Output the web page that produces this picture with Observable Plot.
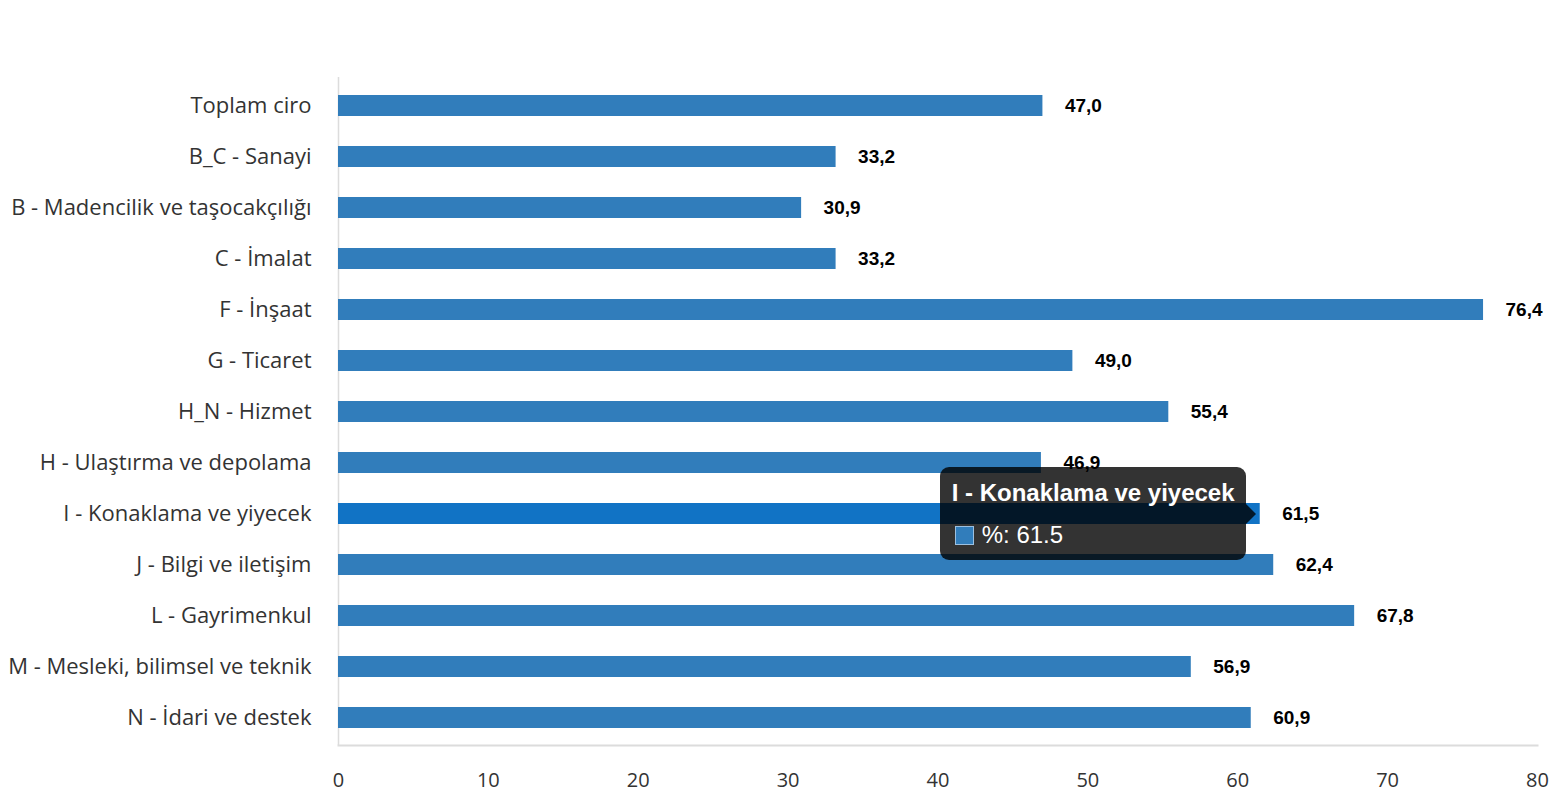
<!DOCTYPE html>
<html><head><meta charset="utf-8">
<script src="https://cdn.jsdelivr.net/npm/d3@7"></script>
<script src="https://cdn.jsdelivr.net/npm/@observablehq/plot@0.6"></script>
<style>
body{margin:0;background:#fff;}
#wrap{position:relative;width:1556px;height:800px;overflow:hidden;}
#tip{position:absolute;background:rgba(0,0,0,0.8);border-radius:9px;color:#fff;font-family:"Liberation Sans",Arial,sans-serif;box-sizing:border-box;}
#tip .arrow{position:absolute;width:0;height:0;border-top:10px solid transparent;border-bottom:10px solid transparent;border-left:10px solid rgba(0,0,0,0.8);}
#tip .title{position:absolute;left:12px;top:13px;font-weight:bold;font-size:24px;line-height:26px;white-space:nowrap;}
#tip .row{position:absolute;left:15px;top:55px;font-size:24px;line-height:26px;white-space:nowrap;display:flex;align-items:center;}
#tip .sw{display:inline-block;width:17px;height:17px;border:1px solid #9cc0e0;margin-right:8px;}
</style></head><body><div id="wrap"></div>
<script>
const categories = [
  "Toplam ciro",
  "B_C - Sanayi",
  "B - Madencilik ve taşocakçılığı",
  "C - İmalat",
  "F - İnşaat",
  "G - Ticaret",
  "H_N - Hizmet",
  "H - Ulaştırma ve depolama",
  "I - Konaklama ve yiyecek",
  "J - Bilgi ve iletişim",
  "L - Gayrimenkul",
  "M - Mesleki, bilimsel ve teknik",
  "N - İdari ve destek"
];
const values = [47.0, 33.2, 30.9, 33.2, 76.4, 49.0, 55.4, 46.9, 61.5, 62.4, 67.8, 56.9, 60.9];
const xTicks = [0, 10, 20, 30, 40, 50, 60, 70, 80];
const highlighted = "I - Konaklama ve yiyecek";
const seriesName = "%";
const barColor = "#317dbb";
const hiColor = "#1173c5";

const data = categories.map((c, i) => ({category: c, value: values[i]}));
const fmt = v => v.toFixed(1).replace(".", ",");

const chart = Plot.plot({
  width: 1556,
  height: 800,
  marginTop: 77,
  marginBottom: 55,
  marginLeft: 338,
  marginRight: 19,
  style: {fontFamily: "'Open Sans', 'Noto Sans', sans-serif", background: "#fff", color: "#333"},
  x: {domain: [0, 80]},
  y: {domain: categories, paddingInner: 0.59, paddingOuter: 0.295},
  marks: [
    Plot.ruleX([0], {stroke: "#dcdcdc", strokeWidth: 1.5}),
    Plot.frame({anchor: "bottom", stroke: "#dcdcdc", strokeWidth: 2}),
    Plot.barX(data.filter(d => d.category !== highlighted), {x: "value", y: "category", fill: barColor}),
    Plot.barX(data.filter(d => d.category === highlighted), {x: "value", y: "category", fill: hiColor}),
    Plot.text(data, {x: "value", y: "category", text: d => fmt(d.value), textAnchor: "start", dx: 22,
      fontWeight: "bold", fontSize: 19, fontFamily: "'Liberation Sans', Arial, sans-serif", fill: "#000"}),
    Plot.axisX({ticks: xTicks, tickSize: 0, tickPadding: 27, fontSize: 20, tickFormat: d => String(d), label: null, fill: "#333"}),
    Plot.axisY({tickSize: 0, tickPadding: 27, fontSize: 22, label: null, fill: "#333"})
  ]
});
const wrap = document.getElementById("wrap");
wrap.appendChild(chart);

// tooltip positioned with the chart's scales
const xs = chart.scale("x"), ys = chart.scale("y");
const hv = values[categories.indexOf(highlighted)];
const xEnd = xs.apply(hv);
const yc = ys.apply(highlighted) + ys.bandwidth / 2;
const tipW = 306, tipH = 93;
const tip = document.createElement("div");
tip.id = "tip";
tip.style.left = (xEnd - 14 - tipW) + "px";
tip.style.top = (yc - tipH / 2) + "px";
tip.style.width = tipW + "px";
tip.style.height = tipH + "px";
tip.innerHTML = `<div class="title"></div><div class="row"><span class="sw"></span><span class="val"></span></div><div class="arrow"></div>`;
tip.querySelector(".title").textContent = highlighted;
tip.querySelector(".val").textContent = `${seriesName}: ${hv}`;
tip.querySelector(".sw").style.background = barColor;
const arrow = tip.querySelector(".arrow");
arrow.style.left = tipW + "px";
arrow.style.top = (tipH / 2 - 10) + "px";
wrap.appendChild(tip);
</script>
</body></html>
